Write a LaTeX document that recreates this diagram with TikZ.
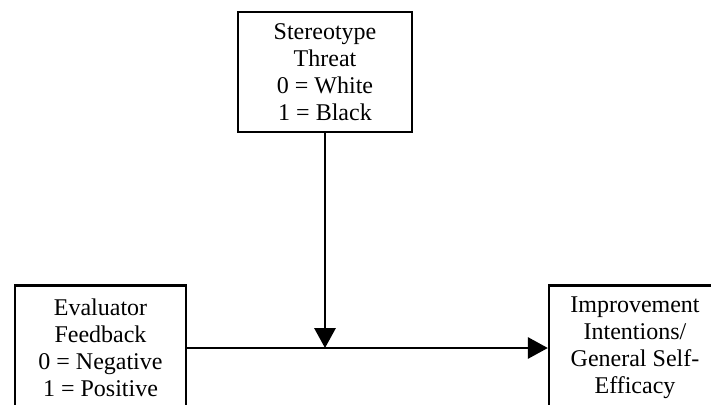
\documentclass[tikz,border=0pt]{standalone}
\usepackage{fontspec}
\setmainfont{Liberation Serif}
\usetikzlibrary{arrows.meta}

\begin{document}
\begin{tikzpicture}[x=0.75pt,y=-0.75pt,
  varbox/.style={draw,line width=1.8pt,inner sep=0pt,align=center,
    font=\fontsize{18}{20.25}\selectfont,minimum height=93.75pt},
  link/.style={line width=1.6pt,-{Triangle[length=15pt,width=16pt]}}]

\clip (0,0) rectangle (711,404);

% moderator
\node[varbox,minimum width=130.5pt,minimum height=90pt] (threat) at (325,72)
  {Stereotype\\Threat\\0 = White\\1 = Black};

% predictor and outcome
\node[varbox,minimum width=128.25pt] (feedback) at (100.5,348)
  {Evaluator\\Feedback\\0 = Negative\\1 = Positive};
\node[varbox,minimum width=129pt] (outcome) at (635,348)
  {Improvement\\Intentions/\\General Self-\\Efficacy};

% paths
\draw[link] (feedback.east) -- (outcome.west);
\coordinate (meet) at (threat.south |- feedback.east);
\draw[link] (threat.south) -- (meet);

\end{tikzpicture}
\end{document}
